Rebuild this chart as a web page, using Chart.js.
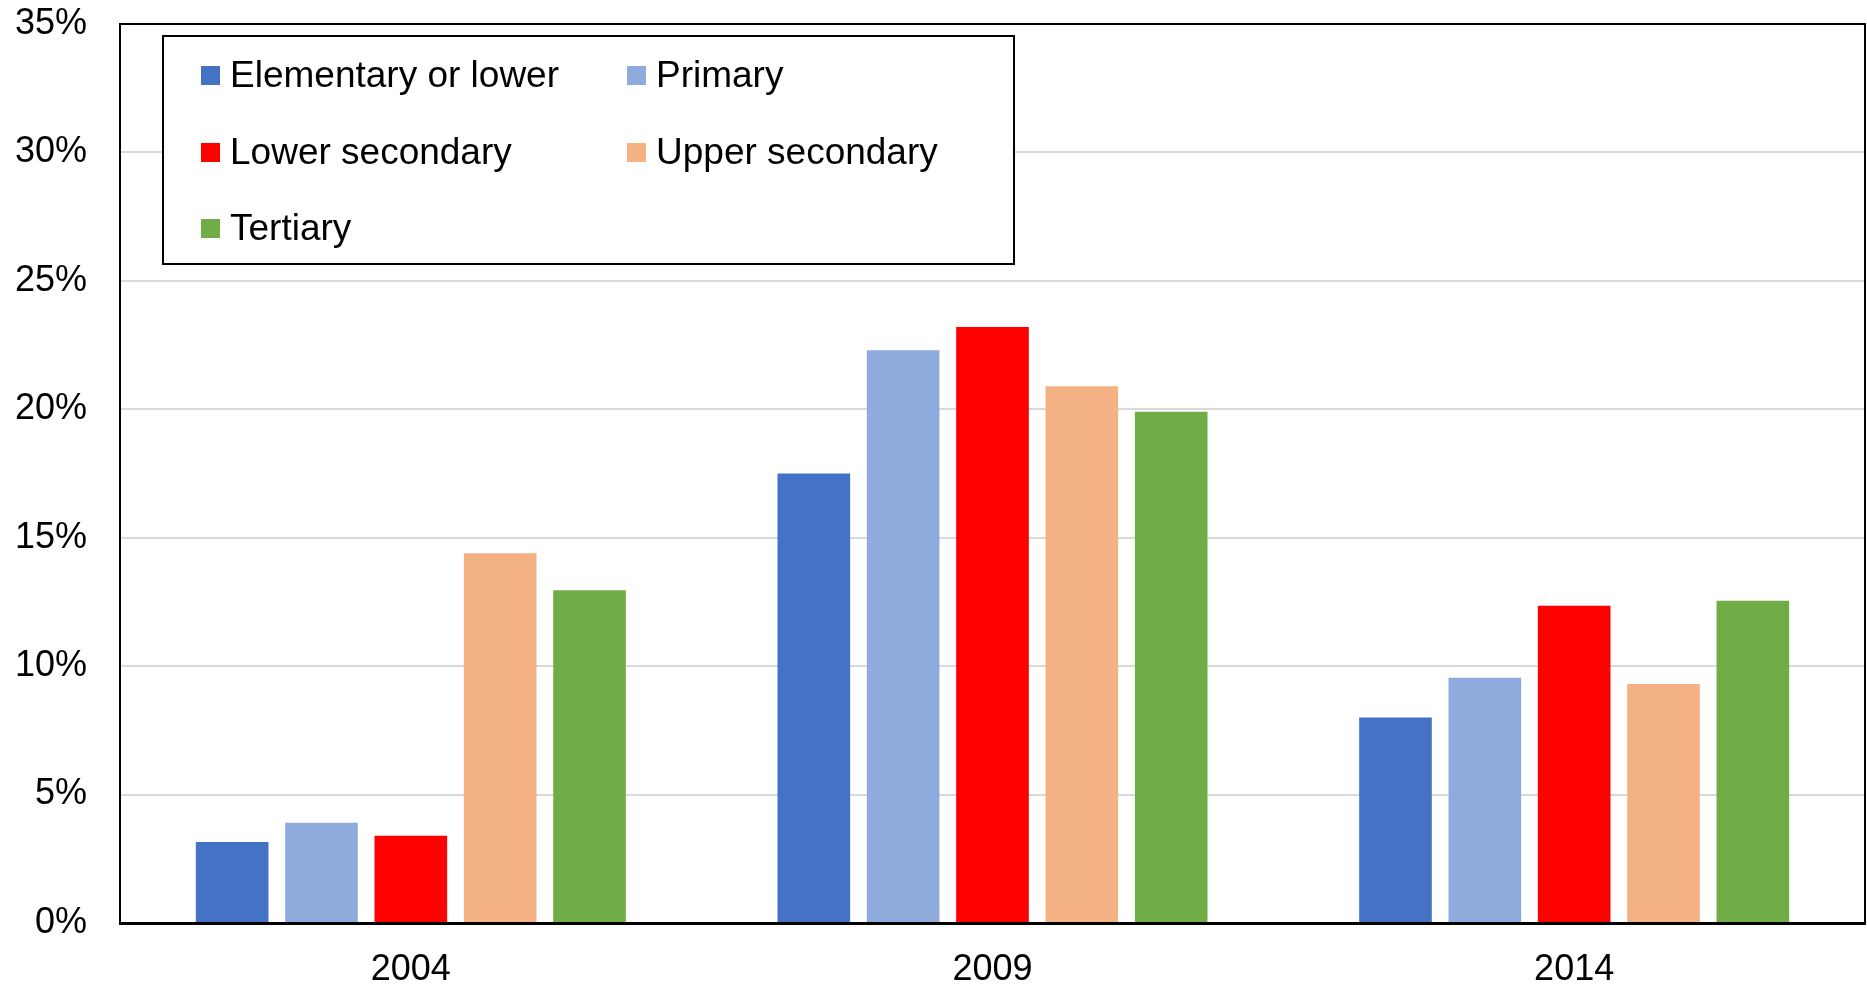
<!DOCTYPE html>
<html>
<head>
<meta charset="utf-8">
<script src="https://cdn.jsdelivr.net/npm/chart.js@4"></script>
<style>
  html, body { margin: 0; padding: 0; background: #fff; }
  #wrap { width: 1867px; height: 985px; }
</style>
</head>
<body>
<div id="wrap"><canvas id="bar-chart" width="1867" height="985"></canvas></div>
<script>
  const years = ["2004", "2009", "2014"];
  const levels = ["Elementary or lower", "Primary", "Lower secondary", "Upper secondary", "Tertiary"];
  const colors = ["#4472C4", "#8FAADC", "#FF0000", "#F4B183", "#70AD47"];
  const elementary = [3.15, 17.5, 8.0];
  const primary = [3.9, 22.3, 9.55];
  const lowerSecondary = [3.4, 23.2, 12.35];
  const upperSecondary = [14.4, 20.9, 9.3];
  const tertiary = [12.95, 19.9, 12.55];
  const yTicks = [0, 5, 10, 15, 20, 25, 30, 35];

  const FONT = "'Liberation Sans', Arial, sans-serif";
  const series = [elementary, primary, lowerSecondary, upperSecondary, tertiary];

  // legend box drawn inside the plot, plus the black frame around it
  const framePlugin = {
    id: "frame",
    afterDraw(chart) {
      const ctx = chart.ctx;
      const a = chart.chartArea;
      ctx.save();
      ctx.strokeStyle = "#000";
      ctx.lineWidth = 2;
      ctx.beginPath();
      ctx.moveTo(a.left, a.top);
      ctx.lineTo(a.right, a.top);
      ctx.lineTo(a.right, a.bottom);
      ctx.stroke();

      // legend
      ctx.lineWidth = 2;
      ctx.fillStyle = "#fff";
      ctx.fillRect(163, 36, 851, 228);
      ctx.strokeRect(163, 36, 851, 228);
      ctx.font = "37px " + FONT;
      ctx.textBaseline = "middle";
      const cols = [201, 627];
      const rows = [76, 153, 229];
      chart.data.datasets.forEach((ds, i) => {
        const x = cols[i % 2];
        const y = rows[Math.floor(i / 2)];
        ctx.fillStyle = ds.backgroundColor;
        ctx.fillRect(x, y - 10, 19, 19);
        ctx.fillStyle = "#000";
        ctx.fillText(ds.label, x + 29, y + 1);
      });
      ctx.restore();
    }
  };

  let config = {
    type: "bar",
    data: {
      labels: years,
      datasets: levels.map((name, i) => ({
        label: name,
        data: series[i],
        backgroundColor: colors[i],
        borderWidth: 0,
        categoryPercentage: 0.768,
        barPercentage: 0.813
      }))
    },
    options: {
      responsive: false,
      animation: false,
      layout: { padding: { top: 24, right: 2, left: 0, bottom: 0 } },
      plugins: {
        legend: { display: false },
        tooltip: { enabled: false }
      },
      scales: {
        x: {
          grid: { display: false, drawTicks: false },
          border: { color: "#000", width: 3 },
          ticks: { color: "#000", font: { family: FONT, size: 36 }, padding: 25 },
          afterFit: (s) => { s.height = 62; s.paddingLeft = 0; s.paddingRight = 0; }
        },
        y: {
          min: 0,
          max: 35,
          afterBuildTicks: (s) => { s.ticks = yTicks.map(v => ({ value: v })); },
          grid: { color: "#d9d9d9", lineWidth: 2, drawTicks: false },
          border: { color: "#000", width: 2 },
          ticks: {
            color: "#000",
            font: { family: FONT, size: 36 },
            padding: 33,
            callback: (v) => v + "%"
          },
          afterFit: (s) => { s.width = 120; s.paddingTop = 0; s.paddingBottom = 0; }
        }
      }
    },
    plugins: [framePlugin]
  };

  let myChart = new Chart(document.getElementById("bar-chart"), config);
</script>
</body>
</html>
